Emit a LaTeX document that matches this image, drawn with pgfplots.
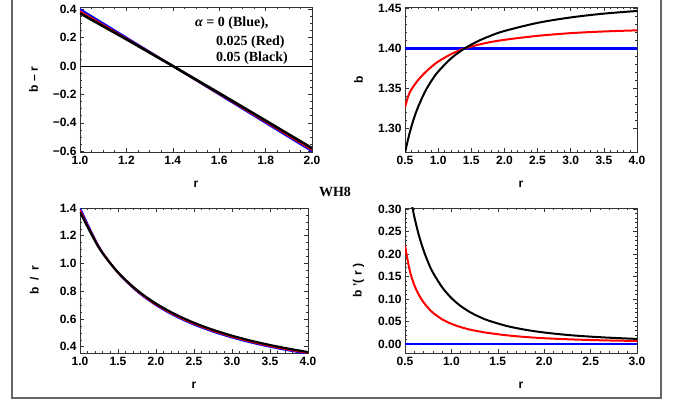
\documentclass[border=0pt]{standalone}
\usepackage{pgfplots}
\pgfplotsset{compat=1.18}
\usepackage{fontspec}
\setmainfont{Liberation Sans}
\newfontfamily\legfont{Liberation Serif}

\pgfplotsset{
  mma/.style={
    scale only axis, width=232pt, height=145pt, anchor=south west,
    axis line style={black!80, line width=0.8pt},
    tick style={black!80, line width=0.6pt},
    major tick length=4pt, minor tick length=2pt,
    /pgf/number format/assume math mode=true,
    tick label style={font=\bfseries\fontsize{12}{13}\selectfont},
    xticklabel style={yshift=-1pt},
    label style={font=\bfseries\fontsize{12}{13}\selectfont},
    xlabel style={at={(axis description cs:0.5,-0.225)}, anchor=center},
    ylabel style={at={(axis description cs:-0.2,0.5)}, anchor=center},
    every axis plot/.append style={line width=2pt, no markers},
  },
  fx1/.style={xticklabel style={/pgf/number format/.cd, fixed, fixed zerofill, precision=1}},
  fy1/.style={yticklabel style={/pgf/number format/.cd, fixed, fixed zerofill, precision=1}},
  fy2/.style={yticklabel style={/pgf/number format/.cd, fixed, fixed zerofill, precision=2}},
}

\begin{document}
\begin{tikzpicture}[x=1pt,y=1pt]
\path[use as bounding box, fill=white] (0,0) rectangle (686,402);

% top left: b - r
\begin{axis}[mma, fx1, at={(80pt,250pt)},
  xmin=1, xmax=2, ymin=-0.605, ymax=0.415,
  xtick={1,1.2,1.4,1.6,1.8,2}, minor x tick num=3,
  ytick={-0.6,-0.4,-0.2,0,0.2,0.4}, minor y tick num=3,
  yticklabels={−0.6,−0.4,−0.2,0.0,0.2,0.4},
  xlabel={r}, ylabel={b -- r}]
\addplot[black, line width=0.5pt] coordinates {(1,0) (2,0)};
\addplot[blue, line width=2pt] coordinates {(1,0.4) (2,-0.6)};
\addplot[red, line width=2pt] coordinates {(1.0,0.3835) (1.2,0.193) (1.4,0) (1.6,-0.1955) (1.8,-0.3917) (2.0,-0.5892)};
\addplot[black, line width=2.6pt] coordinates {(1.0,0.3709) (1.2,0.1879) (1.4,0) (1.6,-0.1909) (1.8,-0.3838) (2.0,-0.5781)};
\end{axis}

% top right: b
\begin{axis}[mma, fx1, fy2, at={(405pt,250pt)},
  xmin=0.5, xmax=4, ymin=1.27, ymax=1.452,
  xtick={0.5,1,1.5,2,2.5,3,3.5,4}, minor x tick num=4,
  ytick={1.30,1.35,1.40,1.45}, minor y tick num=4,
  xlabel={r}, ylabel={b}]
\addplot[blue, line width=2.2pt] coordinates {(0.5,1.4) (4,1.4)};
\addplot[red, line width=2pt, smooth] coordinates {(0.5,1.326) (0.55,1.3405) (0.6,1.349) (0.7,1.3605) (0.8,1.3695) (0.9,1.377) (1.0,1.3835) (1.2,1.393) (1.4,1.400) (1.7,1.4065) (2.0,1.4108) (2.5,1.4158) (3.0,1.4192) (3.5,1.4213) (4.0,1.4227)};
\addplot[black, line width=2pt, smooth] coordinates {(0.5,1.2689) (0.55,1.2874) (0.6,1.3029) (0.65,1.3159) (0.7,1.3271) (0.8,1.3454) (0.9,1.3595) (1.0,1.3709) (1.2,1.3879) (1.4,1.4) (1.6,1.4091) (1.8,1.4162) (2.0,1.4219) (2.5,1.4321) (3.0,1.4389) (3.5,1.4437) (4.0,1.4470)};
\end{axis}

% bottom left: b / r
\begin{axis}[mma, fx1, fy1, at={(80pt,49pt)}, width=228pt,
  xmin=1, xmax=4, ymin=0.355, ymax=1.4,
  xtick={1,1.5,2,2.5,3,3.5,4}, minor x tick num=4,
  ytick={0.4,0.6,0.8,1.0,1.2,1.4}, minor y tick num=3,
  xlabel={r}, ylabel={b\ \ /\ \ r}]
\addplot[blue, line width=2pt, smooth] coordinates {(1.0,1.4) (1.25,1.12) (1.5,0.9333) (1.75,0.8) (2.0,0.7) (2.25,0.6222) (2.5,0.56) (2.75,0.5091) (3.0,0.4667) (3.25,0.4308) (3.5,0.4) (3.75,0.3733) (4.0,0.35)};
\addplot[red, line width=2pt, smooth] coordinates {(1.0,1.3835) (1.25,1.116) (1.5,0.935) (1.75,0.8042) (2.0,0.7054) (2.25,0.6282) (2.5,0.5663) (2.75,0.5155) (3.0,0.4731) (3.25,0.437) (3.5,0.4061) (3.75,0.3792) (4.0,0.3557)};
\addplot[black, line width=2.2pt, smooth] coordinates {(1.0,1.3709) (1.25,1.113) (1.5,0.9366) (1.75,0.8083) (2.0,0.711) (2.25,0.6345) (2.5,0.5728) (2.75,0.5221) (3.0,0.4796) (3.25,0.4435) (3.5,0.4125) (3.75,0.3855) (4.0,0.3619)};
\end{axis}

% bottom right: b'(r)
\begin{axis}[mma, fx1, fy2, at={(405pt,49pt)},
  xmin=0.5, xmax=3, ymin=-0.02, ymax=0.302,
  xtick={0.5,1,1.5,2,2.5,3}, minor x tick num=4,
  ytick={0,0.05,0.1,0.15,0.2,0.25,0.3}, minor y tick num=4,
  xlabel={r}, ylabel={b\ '(\ r\ )}]
\addplot[blue, line width=2.2pt] coordinates {(0.5,0) (3,0)};
\addplot[red, line width=2pt, smooth] coordinates {(0.5,0.218) (0.55,0.164) (0.6,0.131) (0.65,0.109) (0.7,0.0925) (0.75,0.080) (0.8,0.0695) (0.9,0.0548) (1.0,0.0448) (1.1,0.0375) (1.2,0.0320) (1.3,0.0278) (1.4,0.0245) (1.6,0.0192) (1.8,0.0155) (2.0,0.0128) (2.25,0.0105) (2.5,0.0088) (2.75,0.0076) (3.0,0.0067)};
\addplot[black, line width=2pt, smooth] coordinates {(0.57,0.314) (0.6,0.283) (0.65,0.241) (0.7,0.208) (0.75,0.181) (0.8,0.159) (0.9,0.126) (1.0,0.102) (1.1,0.0843) (1.2,0.0708) (1.3,0.0604) (1.4,0.052) (1.6,0.0398) (1.8,0.0315) (2.0,0.0255) (2.25,0.0201) (2.5,0.0163) (2.75,0.0135) (3.0,0.0113)};
\end{axis}

% legend text and panel tag
\begin{scope}[font=\legfont\bfseries\fontsize{14}{15}\selectfont]
\node[anchor=west, inner sep=0] at (195,378.7) {{\itshape α} = 0 (Blue),};
\node[anchor=west, inner sep=0] at (216,360.3) {0.025 (Red)};
\node[anchor=west, inner sep=0] at (216,344.3) {0.05 (Black)};
\node[inner sep=0] at (335,210) {WH8};
\end{scope}

% outer frame
\draw[black!60, line width=1.2pt] (12,402) -- (12,4) -- (661,4) -- (661,402);
\end{tikzpicture}
\end{document}
